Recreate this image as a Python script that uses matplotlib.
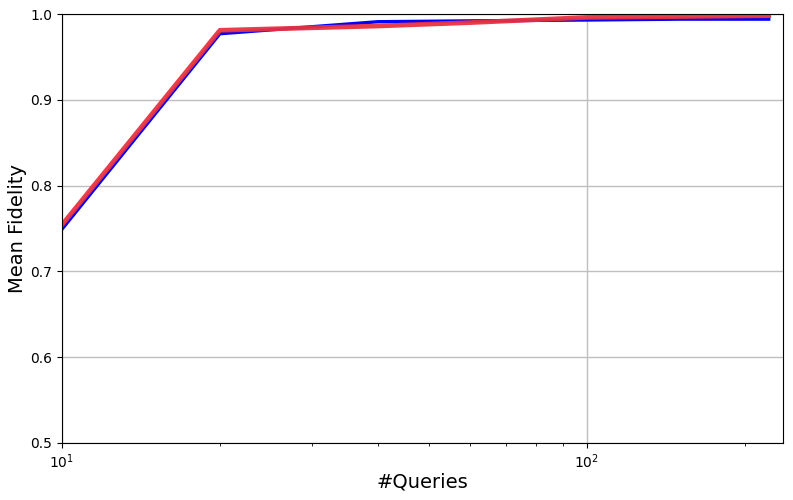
import matplotlib
matplotlib.use("Agg")
import matplotlib.pyplot as plt

# number of queries (log axis)
queries = [10, 20, 40, 60, 100, 150, 222]

# mean fidelity for the two runs
fid_blue = [0.749, 0.977, 0.991, 0.992, 0.993, 0.994, 0.994]
fid_red = [0.754, 0.981, 0.986, 0.990, 0.996, 0.997, 0.998]

fig = plt.figure(figsize=(7.93, 5), dpi=100)
ax = fig.add_axes([0.078, 0.114, 0.909, 0.858])

ax.plot(queries, fid_blue, color="blue", linewidth=2.4)
ax.plot(queries, fid_red, color="#e8323f", linewidth=3.4, alpha=0.95)

ax.set_xscale("log")
ax.set_xlim(10, 236)
ax.set_ylim(0.5, 1.0)
ax.set_yticks([0.5, 0.6, 0.7, 0.8, 0.9, 1.0])
ax.grid(True, which="major", color="#bfbfbf", linewidth=1)
ax.set_axisbelow(True)

ax.set_xlabel("#Queries", fontsize=14, labelpad=0.5)
ax.set_ylabel("Mean Fidelity", fontsize=14, labelpad=2)
ax.tick_params(labelsize=10)

fig.savefig("out.png", dpi=100)
